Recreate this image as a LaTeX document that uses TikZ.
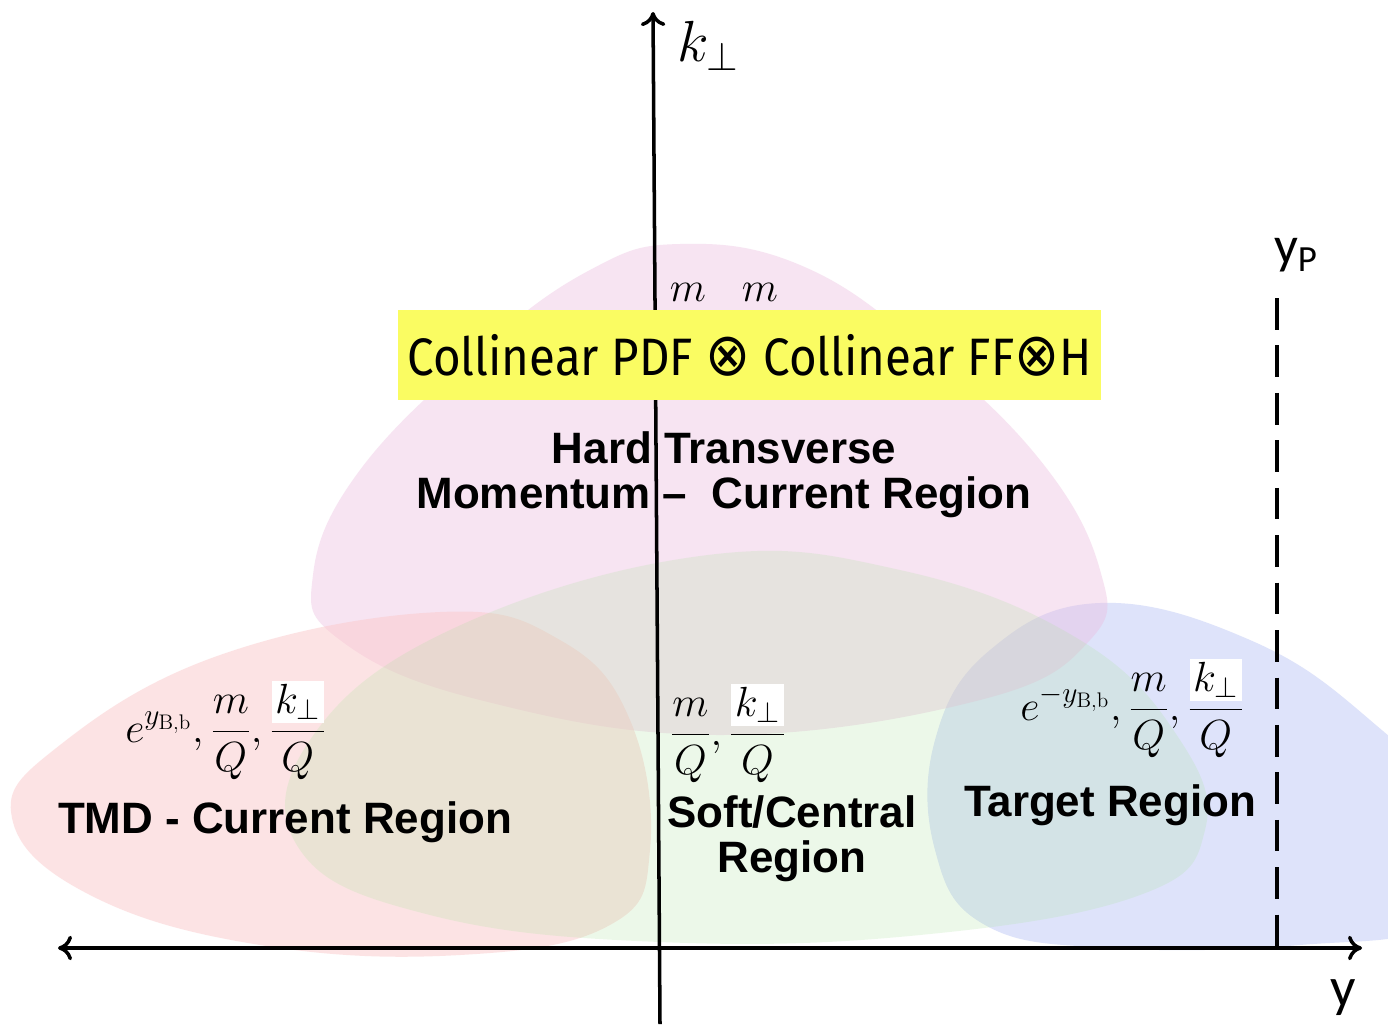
\RequirePackage{fix-cm}
\documentclass[tikz,border=0pt]{standalone}
\usepackage{amsmath,amsbsy}
\usepackage[no-math]{fontspec}
\setmainfont{Liberation Sans}
\newfontfamily\comicf{Fira Sans}
\newfontfamily\calib{Carlito}
\newfontfamily\dejavu{DejaVu Sans}
\usetikzlibrary{arrows.meta}
\definecolor{pinkC}{RGB}{235,188,223}
\definecolor{redC}{RGB}{251,201,203}
\definecolor{greenC}{RGB}{173,227,159}
\definecolor{blueC}{RGB}{222,227,250}
\definecolor{yellowC}{RGB}{250,252,98}
\tikzset{
  regionlabel/.style={font=\fontsize{25}{25.5}\selectfont\bfseries, align=center, inner sep=0pt},
  mathlabel/.style={font=\fontsize{24}{28}\selectfont, inner sep=0pt},
  axisline/.style={line width=2.4pt, black},
  axistip/.style={-{To[length=8pt,width=14pt,line width=2pt]}},
}
\newcommand{\wk}{{\setlength{\fboxsep}{2pt}\colorbox{white}{$k_\perp$}}}
\newcommand{\otim}{{\dejavu\fontsize{34}{34}\selectfont ⊗}}
\begin{document}
\begin{tikzpicture}[x=0.02cm,y=-0.02cm]
\useasboundingbox (0,0) rectangle (1388,1024);
\fill[white] (0,0) rectangle (1388,1024);
\begin{scope}
\clip (0,0) rectangle (1388,1024);
% target (blue)
\fill[blueC] plot[smooth cycle, tension=0.7] coordinates {
  (1100,603) (1250,640) (1370,720) (1460,820) (1440,920) (1300,945) (1110,948)
  (985,925) (935,850) (935,740) (990,650)};
% hard (pink)
\fill[pinkC, fill opacity=0.4] plot[smooth cycle, tension=0.7] coordinates {
  (680,244) (800,265) (920,345) (1040,460) (1100,570) (1090,640) (980,700)
  (720,735) (480,700) (340,640) (313,575) (360,470) (480,350) (590,270)};
% TMD (red)
\fill[redC, fill opacity=0.5] plot[smooth cycle, tension=0.7] coordinates {
  (440,612) (560,640) (630,720) (650,850) (610,925) (460,955) (260,945)
  (90,895) (12,818) (60,745) (220,655)};
% soft/central (green)
\fill[greenC, fill opacity=0.22] plot[smooth cycle, tension=0.7] coordinates {
  (700,556) (900,570) (1080,640) (1180,740) (1205,830) (1140,895) (920,935)
  (660,942) (430,915) (300,850) (310,740) (450,630)};
\end{scope}

% axes
\coordinate (xl) at (58,948);
\coordinate (xr) at (1362,948);
\coordinate (yb) at (660,1024);
\coordinate (yt) at (653,12);
\draw[axisline, {To[length=8pt,width=14pt,line width=2pt]}-{To[length=8pt,width=14pt,line width=2pt]}] (xl) -- (xr);
\draw[axisline, line width=2pt, axistip] (yb) -- (yt);

% dashed line y_P
\coordinate (dt) at (1277,298);
\coordinate (db) at (1277,946);
\draw[line width=2.6pt, dash pattern=on 18pt off 9pt] (dt) -- (db);

% axis labels
\node[font=\fontsize{33}{36}\selectfont, inner sep=0pt] (kperp) at (708,46) {$k_{\perp}$};
\node[font=\fontsize{30}{34}\selectfont\calib, inner sep=0pt] (yP) at (1296,255) {y\textsubscript{P}};
\node[font=\fontsize{32}{34}\selectfont\calib, inner sep=0pt] (yaxis) at (1343,998) {y};

% hidden numerators above box
\node[mathlabel] (m1) at (688,292) {$m$};
\node[mathlabel] (m2) at (760,292) {$m$};

% yellow box
\node[fill=yellowC, minimum width=703*0.02cm, minimum height=90*0.02cm, inner sep=0pt,
      font=\fontsize{30}{34}\selectfont\comicf] (coll) at (749.5,355)
  {\scalebox{0.9}[1]{Collinear PDF \otim{} Collinear FF\otim H}};

% region labels
\node[regionlabel] (hard) at (724,475) {Hard Transverse\\Momentum --\ \ Current Region};
\node[regionlabel] (tmd) at (285,822) {TMD - Current Region};
\node[regionlabel] (soft) at (792,839) {Soft/Central\\Region};
\node[regionlabel] (target) at (1110,805) {Target Region};

% fractions
\node[mathlabel, anchor=west] (fl) at (125,730) {$\displaystyle e^{y_{\mathrm{B,b}}},\frac{m}{Q},\frac{\wk}{Q}$};
\node[mathlabel, anchor=west] (fm) at (670,733) {$\displaystyle \frac{m}{Q},\frac{\wk}{Q}$};
\node[mathlabel, anchor=west] (fr) at (1020,708) {$\displaystyle e^{-y_{\mathrm{B,b}}},\frac{m}{Q},\frac{\wk}{Q}$};
\end{tikzpicture}
\end{document}
